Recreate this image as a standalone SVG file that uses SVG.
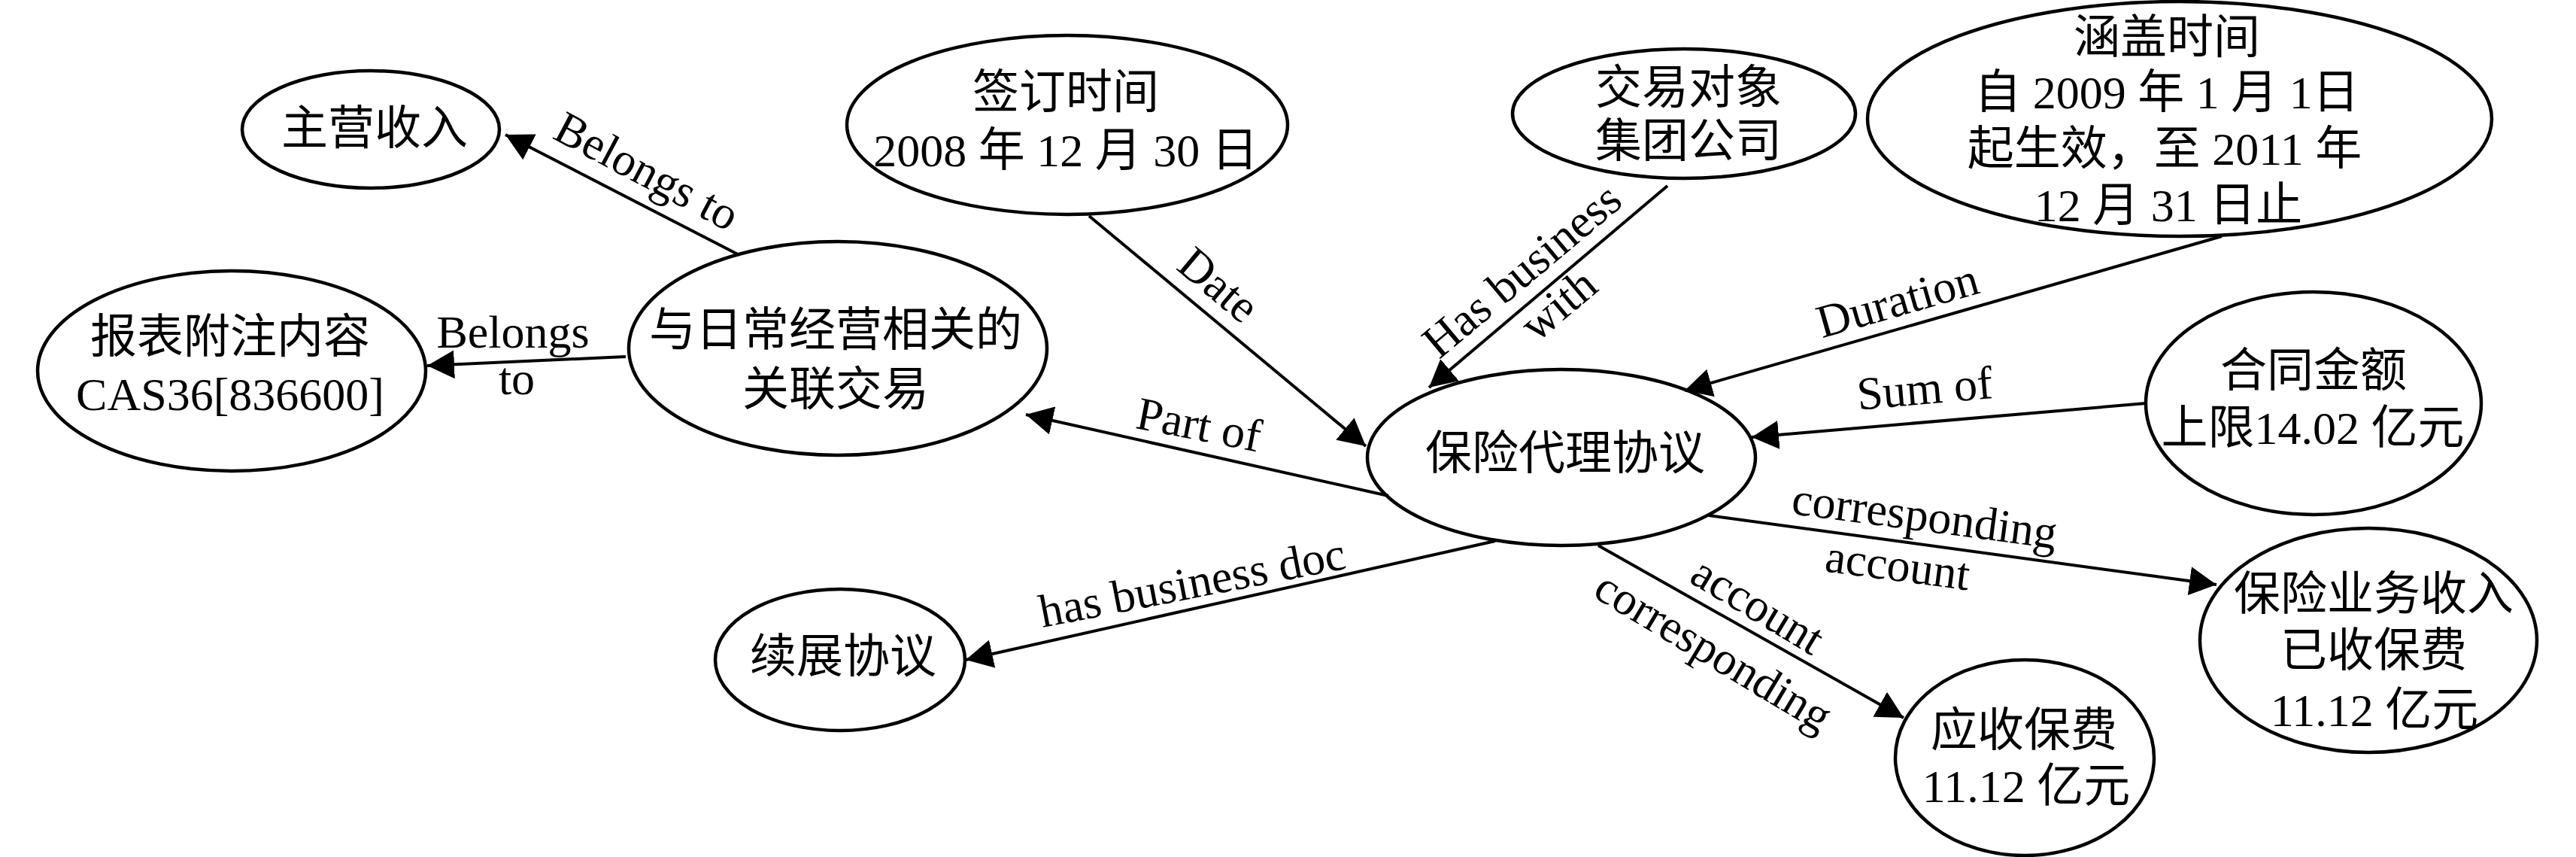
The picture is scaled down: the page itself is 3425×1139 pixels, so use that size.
<svg xmlns="http://www.w3.org/2000/svg" width="3425" height="1139" viewBox="0 0 3425 1139">
<style>
.node ellipse { fill:#fff; stroke:#000; stroke-width:4.5; }
text { font-family:"Liberation Serif","Noto Sans CJK SC",serif; font-size:62px; fill:#000; text-anchor:middle; }
.edges line { stroke:#000; stroke-width:4; fill:none; marker-end:url(#arr); }
</style>
<defs>
<marker id="arr" viewBox="0 0 36 38" refX="36" refY="19" markerWidth="36" markerHeight="38" markerUnits="userSpaceOnUse" orient="auto">
<path d="M0,0 L36,19 L0,38 z" fill="#000"/>
</marker>
</defs>
<rect width="3425" height="1139" fill="#fff"/>
<g id="nodes">
<g id="n-zhuying" class="node"><ellipse cx="493" cy="172" rx="171" ry="78"/><text x="498" y="192">主营收入</text></g>
<g id="n-baobiao" class="node"><ellipse cx="308" cy="493" rx="258" ry="133"/><text x="306" y="469">报表附注内容</text><text x="306" y="545">CAS36[836600]</text></g>
<g id="n-guanlian" class="node"><ellipse cx="1114" cy="463" rx="278" ry="142"/><text x="1111" y="460">与日常经营相关的</text><text x="1111" y="539">关联交易</text></g>
<g id="n-qianding" class="node"><ellipse cx="1419" cy="166" rx="293" ry="119"/><text x="1417" y="144">签订时间</text><text x="1417" y="221">2008 年 12 月 30 日</text></g>
<g id="n-jiaoyi" class="node"><ellipse cx="2239" cy="151" rx="228" ry="86"/><text x="2245" y="138">交易对象</text><text x="2245" y="209">集团公司</text></g>
<g id="n-hangai" class="node"><ellipse cx="2898" cy="158" rx="415" ry="156"/><text x="2881" y="71">涵盖时间</text><text x="2881" y="144">自 2009 年 1 月 1日</text><text x="2878" y="219">起生效，至 2011 年</text><text x="2883" y="294">12 月 31 日止</text></g>
<g id="n-hetong" class="node"><ellipse cx="3076" cy="536" rx="223" ry="148"/><text x="3076" y="514">合同金额</text><text x="3075" y="590">上限14.02 亿元</text></g>
<g id="n-daili" class="node"><ellipse cx="2076" cy="608" rx="258" ry="117"/><text x="2081" y="624">保险代理协议</text></g>
<g id="n-yewu" class="node"><ellipse cx="3149" cy="851" rx="224" ry="149"/><text x="3156" y="811">保险业务收入</text><text x="3156" y="886">已收保费</text><text x="3157" y="965">11.12 亿元</text></g>
<g id="n-yingshou" class="node"><ellipse cx="2692" cy="1007" rx="172" ry="130"/><text x="2691" y="992">应收保费</text><text x="2694" y="1066">11.12 亿元</text></g>
<g id="n-xuzhan" class="node"><ellipse cx="1117" cy="877" rx="166" ry="94"/><text x="1121" y="894">续展协议</text></g>
</g>
<g id="edges" class="edges">
<line x1="983" y1="339" x2="672" y2="179"/>
<line x1="832" y1="474" x2="568" y2="486"/>
<line x1="1448" y1="287" x2="1816" y2="593"/>
<line x1="2217" y1="247" x2="1900" y2="515"/>
<line x1="2954" y1="314" x2="2240" y2="519"/>
<line x1="2853" y1="536" x2="2329" y2="581"/>
<line x1="1846" y1="659" x2="1364" y2="551"/>
<line x1="1988" y1="719" x2="1284" y2="877"/>
<line x1="2272" y1="685" x2="2947" y2="777"/>
<line x1="2125" y1="725" x2="2531" y2="954"/>
<text transform="translate(860,228) rotate(28)" y="20">Belongs to</text>
<text x="682" y="462">Belongs</text>
<text x="687" y="524">to</text>
<text transform="translate(1620,379) rotate(40)" y="20">Date</text>
<g transform="translate(2045,385) rotate(-40)"><text y="-13">Has business</text><text x="8" y="53">with</text></g>
<text transform="translate(2523,400) rotate(-16)" y="20">Duration</text>
<text transform="translate(2559,517) rotate(-5)" y="20">Sum of</text>
<text transform="translate(1594,565) rotate(11)" y="20">Part of</text>
<text transform="translate(1585,775) rotate(-11)" y="20">has business doc</text>
<text transform="translate(2559,686) rotate(7.5)" y="20">corresponding</text>
<text transform="translate(2523,752) rotate(7.5)" y="20">account</text>
<text transform="translate(2337,805) rotate(31)" y="20">account</text>
<text transform="translate(2278,866) rotate(31)" y="20">corresponding</text>
</g>
</svg>
